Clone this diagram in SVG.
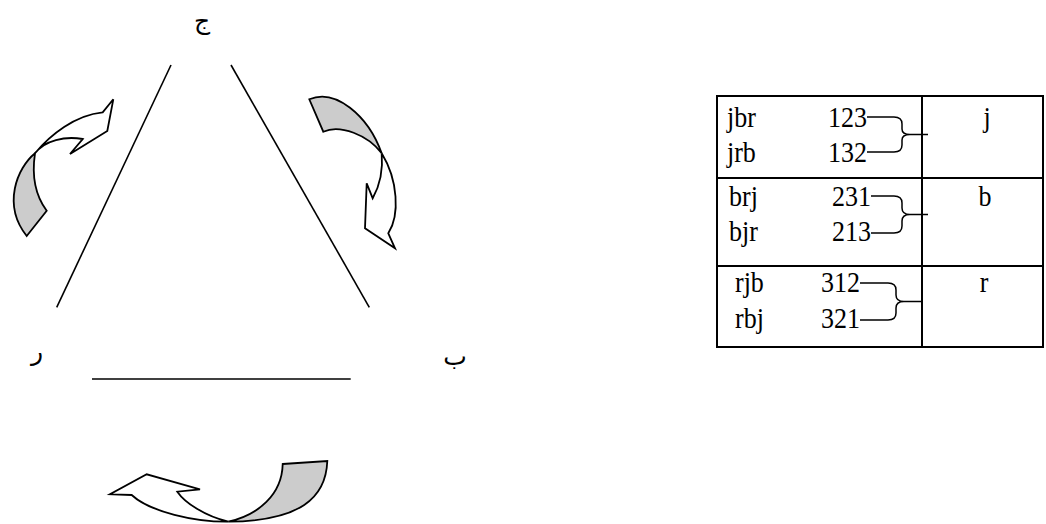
<svg xmlns="http://www.w3.org/2000/svg" width="1046" height="524" viewBox="0 0 1046 524">
<style>
.ln{stroke:#000;stroke-width:1.6;fill:none}
.ar{stroke:#000;stroke-width:1.8;stroke-linejoin:miter}
.gr{fill:#cccccc}
.wh{fill:#ffffff}
.ab{font-family:"DejaVu Sans",sans-serif;font-size:25px;fill:#000}
.tx{font-family:"Liberation Serif","Times New Roman",serif;font-size:26px;fill:#000}
.e{text-anchor:end}
.m{text-anchor:middle}
.br{stroke:#000;stroke-width:1.5;fill:none}
.tb{stroke:#000;stroke-width:2;fill:none}
</style>
<rect width="1046" height="524" fill="#fff"/>
<g id="triangle">
<line class="ln" x1="171" y1="65" x2="56.7" y2="307.3"/>
<line class="ln" x1="231" y1="65" x2="369.3" y2="307.3"/>
<line class="ln" x1="92" y1="379" x2="350.7" y2="379"/>
</g>
<g id="label-jeem"><text class="ab m" x="202" y="29">ج</text></g>
<g id="label-ra"><text class="ab m" x="37" y="360">ر</text></g>
<g id="label-ba"><text class="ab m" x="455" y="365">ب</text></g>
<g id="arrow-left">
<path class="ar gr" d="M26.7,236 L46.7,210.7 C38,199 31,180 35,153.3 C17,168 2,205 26.7,236 Z"/>
<path class="ar wh" d="M35,153.3 C50,135 75,115 102.7,112.3 L113.3,99.3 L107.3,131 L70,154 L82.7,139 C65,136 45,140 35,153.3 Z"/>
</g>
<g id="arrow-right">
<path class="ar gr" d="M309.3,99.3 C335,88 368,115 381.7,153.3 C368,135 340,124 323.3,131.7 Z"/>
<path class="ar wh" d="M381.7,153.3 C398,180 400,215 388.3,233.3 L395,248.3 L365,228.3 L366.7,183.3 L372.7,198.3 C380,185 383,168 381.7,153.3 Z"/>
</g>
<g id="arrow-bottom">
<path class="ar gr" d="M282.7,464 L327.3,461 C326,498 300,521 228.3,521.7 C258,515 282,495 282.7,464 Z"/>
<path class="ar wh" d="M228.3,521.7 C195,522 150,512 131.7,495 L110,494.3 L146.7,474.3 L200,489.3 L177.3,491.7 C185,503 205,516 228.3,521.7 Z"/>
</g>
<g id="table">
<rect class="tb" x="717" y="96" width="326" height="251"/>
<line class="tb" x1="922" y1="96" x2="922" y2="347"/>
<line class="tb" x1="717" y1="178" x2="1043" y2="178"/>
<line class="tb" x1="717" y1="266" x2="1043" y2="266"/>
</g>
<g id="row-j">
<text class="tx" transform="translate(727,127) scale(1,1.15)">jbr</text>
<text class="tx" transform="translate(727,162) scale(1,1.15)">jrb</text>
<text class="tx e" transform="translate(867,127) scale(1,1.15)">123</text>
<text class="tx e" transform="translate(867,162) scale(1,1.15)">132</text>
<text class="tx m" transform="translate(987,127) scale(1,1.15)">j</text>
</g>
<g id="row-b">
<text class="tx" transform="translate(729,206) scale(1,1.15)">brj</text>
<text class="tx" transform="translate(729,241) scale(1,1.15)">bjr</text>
<text class="tx e" transform="translate(871,206) scale(1,1.15)">231</text>
<text class="tx e" transform="translate(871,241) scale(1,1.15)">213</text>
<text class="tx m" transform="translate(985,206) scale(1,1.15)">b</text>
</g>
<g id="row-r">
<text class="tx" transform="translate(735,292) scale(1,1.15)">rjb</text>
<text class="tx" transform="translate(735,328) scale(1,1.15)">rbj</text>
<text class="tx e" transform="translate(860,292) scale(1,1.15)">312</text>
<text class="tx e" transform="translate(860,328) scale(1,1.15)">321</text>
<text class="tx m" transform="translate(984,292) scale(1,1.15)">r</text>
</g>
<g id="connectors">
<path class="br" d="M867,117 L894,117 Q902,117 902,124 L902,129 Q902,134.5 910,134.5 L928,134.5 M910,134.5 Q902,134.5 902,140 L902,145 Q902,152 894,152 L867,152"/>
<path class="br" d="M871,196 L894,196 Q902,196 902,203 L902,208 Q902,214.5 910,214.5 L928,214.5 M910,214.5 Q902,214.5 902,221 L902,226 Q902,233 894,233 L871,233"/>
<path class="br" d="M860,283 L888,283 Q896,283 896,290 L896,295 Q896,301.5 904,301.5 L921,301.5 M904,301.5 Q896,301.5 896,308 L896,313 Q896,320 888,320 L860,320"/>
</g>
</svg>
